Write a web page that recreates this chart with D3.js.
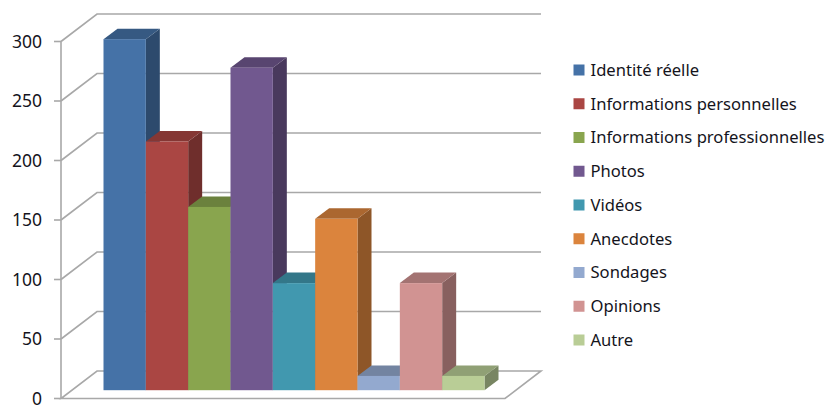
<!DOCTYPE html>
<html>
<head>
<meta charset="utf-8">
<script src="https://cdn.jsdelivr.net/npm/d3@7"></script>
<style>
	html, body { margin: 0; padding: 0; background: #fff; }
	svg { display: block; }
	text { font-family: "Noto Sans", sans-serif; fill: #14141c; }
</style>
</head>
<body>
<svg id="chart" width="826" height="406"></svg>
<script>
const categories = ['Identité réelle', 'Informations personnelles', 'Informations professionnelles', 'Photos', 'Vidéos', 'Anecdotes', 'Sondages', 'Opinions', 'Autre'];
const values = [295, 209, 154, 271, 90, 144, 12, 90, 12];
const yTicks = [0, 50, 100, 150, 200, 250, 300];
const colours = ['#4572a7', '#aa4643', '#89a54e', '#71588f', '#4198af', '#db843d', '#93a9cf', '#d19392', '#b9cd96'];

const width = 826;
const height = 406;

// front plane of the box, the back wall is this shifted by wallDx / wallDy
const axisX = 61;
const floorRight = 505;
const wallDx = 36;
const wallDy = -27.5;

// bars stand a bit behind the front edge of the floor
const barShift = { x: 0, y: -8.3 };
const barDepth = { x: 14, y: -10.5 };

const svg = d3.select('#chart');

const y = d3.scaleLinear().domain([0, 300]).range([398.5, 41.5]);
const x = d3.scaleBand().domain(categories).range([103.5, 484.5]);
const colour = d3.scaleOrdinal().domain(categories).range(colours);

const shade = (c, k) => d3.interpolateRgb(c, '#000')(k);
const poly = (pts) => pts.map(p => p.join(',')).join(' ');

// floor and walls
const grid = svg.append('g')
	.attr('fill', 'none')
	.attr('stroke', '#a8a8a8')
	.attr('stroke-width', 1.6);

grid.selectAll('polyline.wall')
	.data(yTicks.filter(t => t > 0))
	.enter()
	.append('polyline')
	.attr('class', 'wall')
	.attr('points', t => poly([
		[axisX, y(t)],
		[axisX + wallDx, y(t) + wallDy],
		[floorRight + wallDx, y(t) + wallDy]
	]));

grid.append('polygon')
	.attr('points', poly([
		[axisX, y(0)],
		[floorRight, y(0)],
		[floorRight + wallDx, y(0) + wallDy],
		[axisX + wallDx, y(0) + wallDy]
	]));

grid.append('line')
	.attr('x1', axisX).attr('x2', axisX)
	.attr('y1', y(0)).attr('y2', y(300));

grid.selectAll('line.tick')
	.data(yTicks)
	.enter()
	.append('line')
	.attr('class', 'tick')
	.attr('x1', axisX - 7).attr('x2', axisX)
	.attr('y1', t => y(t)).attr('y2', t => y(t));

svg.append('g')
	.selectAll('text')
	.data(yTicks)
	.enter()
	.append('text')
	.attr('x', 42)
	.attr('y', t => y(t))
	.attr('dy', '0.36em')
	.attr('text-anchor', 'end')
	.attr('font-size', 17.5)
	.text(d => d);

// bars, left to right so the next front covers the previous side
const bars = svg.append('g')
	.selectAll('g')
	.data(categories.map((c, i) => ({ name: c, value: values[i] })))
	.enter()
	.append('g');

bars.each(function(d) {
	const g = d3.select(this);
	const x0 = x(d.name) + barShift.x;
	const x1 = x0 + x.bandwidth();
	const top = y(d.value) + barShift.y;
	const bottom = y(0) + barShift.y;
	const dx = barDepth.x;
	const dy = barDepth.y;
	const c = colour(d.name);

	g.append('polygon')
		.attr('fill', shade(c, 0.35))
		.attr('points', poly([[x1, top], [x1 + dx, top + dy], [x1 + dx, bottom + dy], [x1, bottom]]));

	g.append('polygon')
		.attr('fill', shade(c, 0.22))
		.attr('points', poly([[x0, top], [x0 + dx, top + dy], [x1 + dx, top + dy], [x1, top]]));

	g.append('rect')
		.attr('fill', c)
		.attr('x', x0)
		.attr('y', top)
		.attr('width', x.bandwidth())
		.attr('height', bottom - top);
});

// legend
const legendY = d3.scalePoint().domain(categories).range([70, 340]);

const legend = svg.append('g')
	.selectAll('g')
	.data(categories)
	.enter()
	.append('g')
	.attr('transform', d => `translate(573.5,${legendY(d)})`);

legend.append('rect')
	.attr('y', -5.5)
	.attr('width', 11)
	.attr('height', 11)
	.attr('fill', d => colour(d));

legend.append('text')
	.attr('x', 17)
	.attr('dy', '0.36em')
	.attr('font-size', 16.6)
	.text(d => d);
</script>
</body>
</html>
